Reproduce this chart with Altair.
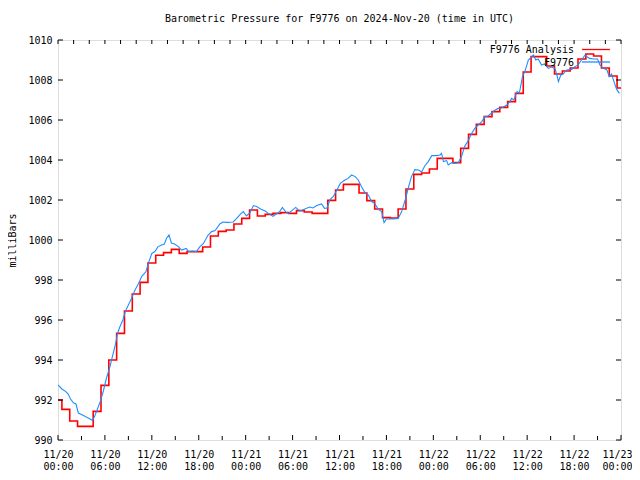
import altair as alt
import pandas as pd

# ---- data ----
# Analysis: hourly values (hours since 2024-11-20 00:00 UTC)
red_hours = list(range(73))
red_values = [
    992.0, 991.53, 990.95, 990.68, 990.68, 991.43, 992.73, 994.0, 995.33, 996.45,
    997.3, 997.88, 998.85, 999.24, 999.37, 999.53, 999.33, 999.42, 999.42, 999.65,
    1000.2, 1000.43, 1000.5, 1000.8, 1001.08, 1001.5, 1001.2, 1001.28, 1001.33, 1001.37,
    1001.33, 1001.47, 1001.4, 1001.33, 1001.33, 1001.98, 1002.5, 1002.78, 1002.78, 1002.35,
    1001.97, 1001.55, 1001.12, 1001.1, 1001.55, 1002.55, 1003.28, 1003.35, 1003.55, 1004.08,
    1004.08, 1003.87, 1004.58, 1005.28, 1005.78, 1006.17, 1006.42, 1006.63, 1006.92, 1007.33,
    1008.4, 1009.17, 1009.17, 1008.7, 1008.3, 1008.45, 1008.6, 1009.05, 1009.3, 1009.2,
    1008.6, 1008.2, 1007.6,
]

# F9776 station observations
blue_hours = [
    0.0, 0.5, 1.0, 1.3, 1.6, 2.0, 2.3, 2.6, 3.0, 3.5, 4.1, 4.4, 4.7, 5.0, 5.4, 5.8,
    6.2, 6.6, 6.9, 7.3, 7.6, 7.9, 8.3, 8.6, 9.0, 9.4, 9.85, 10.3, 10.7, 11.25, 11.55,
    12.0, 12.4, 12.8, 13.25, 13.6, 13.9, 14.2, 14.5, 14.9, 15.4, 15.8, 16.4, 16.7, 17.2,
    17.7, 18.15, 18.6, 19.2, 19.65, 20.1, 20.7, 21.1, 21.6, 22.4, 22.85, 23.3, 23.7,
    24.1, 24.55, 25.0, 25.4, 25.9, 26.5, 26.9, 27.5, 27.9, 28.3, 28.7, 29.2, 29.5, 29.9,
    30.4, 30.9, 31.3, 31.7, 32.2, 32.6, 33.1, 33.7, 34.1, 34.4, 34.8, 35.2, 35.6, 36.1,
    36.7, 37.1, 37.55, 38.0, 38.4, 38.8, 39.25, 39.7, 40.1, 40.5, 40.95, 41.4, 41.7,
    42.0, 42.9, 43.5, 43.95, 44.4, 44.8, 45.2, 45.65, 46.1, 46.5, 46.9, 47.35, 47.8,
    48.4, 48.85, 49.05, 49.3, 49.7, 49.9, 50.35, 50.8, 51.2, 51.6, 52.0, 52.5, 52.9,
    53.3, 53.75, 54.2, 54.6, 55.0, 55.5, 55.9, 56.3, 56.7, 57.4, 57.8, 58.0, 58.3, 58.7,
    59.0, 59.4, 59.7, 60.15, 60.6, 60.8, 61.1, 61.4, 61.85, 62.2, 62.7, 63.1, 63.55,
    63.8, 64.0, 64.3, 64.6, 65.05, 65.7, 66.1, 66.5, 66.95, 67.4, 67.6, 68.0, 68.5,
    69.0, 69.3, 69.75, 70.2, 70.5, 70.8, 71.1, 71.45, 71.8,
]
blue_values = [
    992.75, 992.55, 992.42, 992.3, 992.05, 991.85, 991.8, 991.35, 991.28, 991.17, 991.05,
    990.98, 991.2, 991.5, 991.92, 992.45, 993.1, 993.6, 994.08, 994.7, 995.3, 995.65,
    996.0, 996.42, 996.75, 997.08, 997.5, 997.83, 998.17, 998.42, 998.83, 999.33, 999.42,
    999.67, 999.75, 999.8, 1000.1, 1000.25, 999.85, 999.8, 999.67, 999.5, 999.58, 999.42,
    999.45, 999.42, 999.67, 999.83, 1000.25, 1000.42, 1000.47, 1000.8, 1000.9, 1000.88,
    1000.9, 1001.08, 1001.28, 1001.42, 1001.2, 1001.37, 1001.72, 1001.67, 1001.55,
    1001.45, 1001.33, 1001.18, 1001.3, 1001.4, 1001.63, 1001.37, 1001.33, 1001.47,
    1001.63, 1001.45, 1001.5, 1001.58, 1001.65, 1001.6, 1001.72, 1001.8, 1001.58, 1001.6,
    1002.03, 1002.17, 1002.45, 1002.83, 1003.0, 1003.08, 1003.25, 1003.17, 1003.0,
    1002.67, 1002.37, 1002.25, 1001.92, 1001.83, 1001.53, 1001.42, 1000.87, 1001.05,
    1001.05, 1001.08, 1001.42, 1002.0, 1002.6, 1003.17, 1003.52, 1003.5, 1003.4, 1003.7,
    1003.92, 1004.22, 1004.22, 1004.25, 1004.33, 1003.92, 1003.97, 1003.75, 1003.87,
    1003.83, 1003.87, 1004.17, 1004.67, 1005.0, 1005.33, 1005.58, 1005.75, 1005.92,
    1006.17, 1006.2, 1006.37, 1006.5, 1006.58, 1006.6, 1006.75, 1006.92, 1007.08, 1007.0,
    1007.42, 1007.35, 1008.17, 1008.42, 1009.0, 1009.17, 1009.25, 1009.0, 1009.05,
    1008.75, 1008.8, 1008.58, 1008.65, 1008.58, 1008.25, 1007.92, 1008.25, 1008.3,
    1008.5, 1008.53, 1008.67, 1008.75, 1009.0, 1009.25, 1009.17, 1009.08, 1009.05,
    1009.05, 1008.75, 1008.58, 1008.5, 1008.17, 1008.3, 1007.92, 1007.53, 1007.33,
]

x_label_hours = list(range(0, 73, 6))
x_label_dates = ["11/20"] * 4 + ["11/21"] * 4 + ["11/22"] * 4 + ["11/23"]
x_label_times = ["00:00", "06:00", "12:00", "18:00"] * 3 + ["00:00"]
y_ticks = list(range(990, 1011, 2))
bottom_minor_hours = list(range(3, 72, 6))
top_tick_hours = list(range(0, 73, 2))

series_names = ["F9776 Analysis", "F9776"]
series_colors = ["#ff0000", "#1e8fff"]

FONT = "DejaVu Sans Mono"
W, H = 563, 400

df_red = pd.DataFrame({"h": red_hours, "p": red_values})
df_blue = pd.DataFrame({"h": blue_hours, "p": blue_values})

xs = alt.Scale(domain=[0, 72], nice=False, zero=False)
ys = alt.Scale(domain=[990, 1010], nice=False, zero=False)

label_expr = "[" + ",".join(
    f"['{d}','{t}']" for d, t in zip(x_label_dates, x_label_times)
) + "][round(datum.value/6)]"

x_axis = alt.Axis(values=x_label_hours, labelExpr=label_expr, ticks=False, domain=False,
                  grid=False, title=None, labelPadding=9, labelLineHeight=12,
                  labelBaseline="top", labelFlush=False, labelOverlap=False,
                  labelOffset={"condition": {"test": "datum.value >= 72", "value": -4},
                               "value": 0},
                  labelFont=FONT, labelFontSize=10, labelColor="black")
y_axis = alt.Axis(values=y_ticks, format="d", ticks=False, domain=False, grid=False,
                  labelPadding=6, labelFont=FONT, labelFontSize=10, labelColor="black",
                  labelFlush=False, labelOverlap=False,
                  title="milliBars", titleFont=FONT, titleFontSize=10,
                  titleFontWeight="normal", titleColor="black",
                  titleX=-46, titleY=H / 2, titleAlign="center", titleBaseline="middle",
                  titleAngle=270)

X = alt.X("h:Q", scale=xs, axis=x_axis)
Y = alt.Y("p:Q", scale=ys, axis=y_axis)

red = alt.Chart(df_red).mark_line(color=series_colors[0], strokeWidth=1.6,
                                  interpolate="step", clip=True).encode(x=X, y=Y)
blue = alt.Chart(df_blue).mark_line(color=series_colors[1], strokeWidth=1.1,
                                    clip=True).encode(x=X, y=Y)

def xticks(hours, y1, y2):
    return alt.Chart(pd.DataFrame({"h": hours})).mark_rule(color="black", strokeWidth=1).encode(
        x=X, y=alt.value(y1), y2=alt.value(y2))

def yticks(vals, x1, x2):
    return alt.Chart(pd.DataFrame({"p": vals})).mark_rule(color="black", strokeWidth=1).encode(
        y=Y, x=alt.value(x1), x2=alt.value(x2))

ticks = [
    xticks(x_label_hours, H, H - 5),
    xticks(bottom_minor_hours, H, H - 4),
    xticks(top_tick_hours, 0, 4),
    yticks(y_ticks, 0, 5),
    yticks(y_ticks, W, W - 5),
]

legend = []
for i, (name, col) in enumerate(zip(series_names, series_colors)):
    one = pd.DataFrame({"name": [name]})
    ty = 10 + 12.5 * i
    legend.append(alt.Chart(one).mark_text(align="right", baseline="middle", font=FONT,
                                           fontSize=10, color="black").encode(
        x=alt.value(516), y=alt.value(ty), text="name:N"))
    legend.append(alt.Chart(one).mark_rule(strokeWidth=1.3, color=col).encode(
        x=alt.value(524), x2=alt.value(552), y=alt.value(ty - 0.5)))

chart = alt.layer(red, blue, *ticks, *legend).properties(
    width=W, height=H,
    title=alt.Title("Barometric Pressure for F9776 on 2024-Nov-20 (time in UTC)",
                    font=FONT, fontSize=10, fontWeight="normal", color="black",
                    anchor="middle", offset=11),
    padding={"left": 50, "top": 32, "right": 11, "bottom": 30},
    autosize="none",
).configure_view(stroke="black", strokeWidth=1).configure(background="white")

chart.save("out.html", embed_options={"renderer": "svg", "actions": False})
